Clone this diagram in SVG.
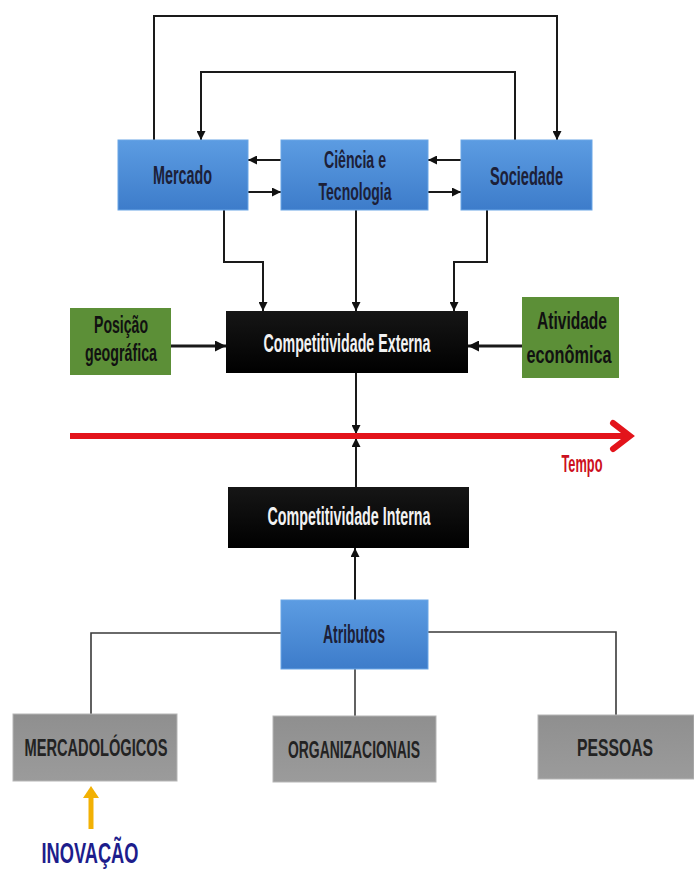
<svg xmlns="http://www.w3.org/2000/svg" width="694" height="875" viewBox="0 0 694 875">
  <defs>
    <linearGradient id="gBlue" x1="0" y1="0" x2="0" y2="1">
      <stop offset="0" stop-color="#5c9ce2"/>
      <stop offset="1" stop-color="#3d7cca"/>
    </linearGradient>
    <linearGradient id="gGray" x1="0" y1="0" x2="0" y2="1">
      <stop offset="0" stop-color="#8f8f8f"/>
      <stop offset="1" stop-color="#9b9b9b"/>
    </linearGradient>
    <linearGradient id="gBlack" x1="0" y1="0" x2="0" y2="1">
      <stop offset="0" stop-color="#161616"/>
      <stop offset="1" stop-color="#000000"/>
    </linearGradient>
    <marker id="ah" viewBox="0 0 10 10" refX="10" refY="5" markerWidth="9" markerHeight="9" markerUnits="userSpaceOnUse" orient="auto">
      <path d="M0,0 L10,5 L0,10 z" fill="#111"/>
    </marker>
    <marker id="ahBig" viewBox="0 0 10 10" refX="10" refY="5" markerWidth="11" markerHeight="11" markerUnits="userSpaceOnUse" orient="auto">
      <path d="M0,0 L10,5 L0,10 z" fill="#111"/>
    </marker>
  </defs>
  <style>
    .blue { fill: url(#gBlue); stroke: #6aa6e6; stroke-width: 1; }
    .green { fill: #5c8f37; }
    .black { fill: url(#gBlack); }
    .gray { fill: url(#gGray); stroke: #b5b5b5; stroke-width: 1; }
    .t { font-family: "Liberation Sans", Arial, sans-serif; font-weight: bold; text-anchor: middle; }
    .dark { fill: #1c2038; }
    .white { fill: #f2f2f2; }
    .graytxt { fill: #232323; }
    .c { fill: none; stroke: #1a1a1a; stroke-width: 2; }
    .cw { fill: none; stroke: #1a1a1a; stroke-width: 3; }
    .cg { fill: none; stroke: #3a3a3a; stroke-width: 1.6; }
  </style>
  <rect width="694" height="875" fill="#ffffff"/>

  <g id="connectors">
    <path class="c" d="M154,140 V16 H557 V140" marker-end="url(#ah)"/>
    <path class="c" d="M515,140 V72 H201 V140" marker-end="url(#ah)"/>
    <path class="c" d="M281,160 H248" marker-end="url(#ah)"/>
    <path class="c" d="M248,192 H281" marker-end="url(#ah)"/>
    <path class="c" d="M461,160 H428" marker-end="url(#ah)"/>
    <path class="c" d="M428,192 H461" marker-end="url(#ah)"/>
    <path class="c" d="M224,210 V262 H263 V311" marker-end="url(#ah)"/>
    <path class="c" d="M356,210 V311" marker-end="url(#ah)"/>
    <path class="c" d="M487,210 V262 H454 V311" marker-end="url(#ah)"/>
    <path class="cw" d="M171,346 H226" marker-end="url(#ahBig)"/>
    <path class="cw" d="M522,346 H468" marker-end="url(#ahBig)"/>
    <path class="c" d="M356,373 V434" marker-end="url(#ah)"/>
    <path class="c" d="M356,487 V438" marker-end="url(#ah)"/>
    <path class="c" d="M355,600 V548" marker-end="url(#ah)"/>
    <path class="cg" d="M281,633 H91 V714"/>
    <path class="cg" d="M428,632 H616 V715"/>
    <path class="cg" d="M355,669 V716"/>
  </g>

  <g id="tempo">
    <path d="M70,436 H628" stroke="#e3141b" stroke-width="6" fill="none"/>
    <path d="M613,423 L630,436 L613,449" stroke="#e3141b" stroke-width="6" fill="none" stroke-linejoin="miter" stroke-linecap="round"/>
    <text class="t" x="582" y="472" font-size="23" textLength="41" lengthAdjust="spacingAndGlyphs" fill="#cc1020">Tempo</text>
  </g>

  <g id="mercado">
    <rect class="blue" x="118" y="140" width="130" height="70"/>
    <text class="t dark" x="182.5" y="184" font-size="25" textLength="59" lengthAdjust="spacingAndGlyphs">Mercado</text>
  </g>
  <g id="ciencia">
    <rect class="blue" x="281" y="140" width="147" height="70"/>
    <text class="t dark" x="355" y="168" font-size="23" textLength="62" lengthAdjust="spacingAndGlyphs">Ciência e</text>
    <text class="t dark" x="355" y="200" font-size="23" textLength="73" lengthAdjust="spacingAndGlyphs">Tecnologia</text>
  </g>
  <g id="sociedade">
    <rect class="blue" x="461" y="140" width="131" height="70"/>
    <text class="t dark" x="526.5" y="185" font-size="25" textLength="73" lengthAdjust="spacingAndGlyphs">Sociedade</text>
  </g>

  <g id="posicao">
    <rect class="green" x="70" y="308" width="101" height="67"/>
    <text class="t" fill="#111" x="121" y="333" font-size="23" textLength="54" lengthAdjust="spacingAndGlyphs">Posição</text>
    <text class="t" fill="#111" x="121" y="361" font-size="23" textLength="72" lengthAdjust="spacingAndGlyphs">geográfica</text>
  </g>
  <g id="comp-externa">
    <rect class="black" x="226" y="311" width="242" height="62"/>
    <text class="t white" x="347" y="352" font-size="25" textLength="167" lengthAdjust="spacingAndGlyphs">Competitividade Externa</text>
  </g>
  <g id="atividade">
    <rect class="green" x="522" y="297" width="97" height="81"/>
    <text class="t" fill="#111" x="572" y="329" font-size="23" textLength="70" lengthAdjust="spacingAndGlyphs">Atividade</text>
    <text class="t" fill="#111" x="569" y="363" font-size="23" textLength="85" lengthAdjust="spacingAndGlyphs">econômica</text>
  </g>

  <g id="comp-interna">
    <rect class="black" x="228" y="487" width="241" height="61"/>
    <text class="t white" x="349" y="525" font-size="25" textLength="163" lengthAdjust="spacingAndGlyphs">Competitividade Interna</text>
  </g>

  <g id="atributos">
    <rect class="blue" x="281" y="600" width="147" height="69"/>
    <text class="t dark" x="354" y="643" font-size="25" textLength="62" lengthAdjust="spacingAndGlyphs">Atributos</text>
  </g>

  <g id="mercadologicos">
    <rect class="gray" x="13" y="714" width="164" height="67"/>
    <text class="t graytxt" x="96" y="756" font-size="23" textLength="143" lengthAdjust="spacingAndGlyphs">MERCADOLÓGICOS</text>
  </g>
  <g id="organizacionais">
    <rect class="gray" x="273" y="716" width="163" height="66"/>
    <text class="t graytxt" x="354" y="758" font-size="23" textLength="132" lengthAdjust="spacingAndGlyphs">ORGANIZACIONAIS</text>
  </g>
  <g id="pessoas">
    <rect class="gray" x="538" y="715" width="156" height="64"/>
    <text class="t graytxt" x="615" y="756" font-size="23" textLength="76" lengthAdjust="spacingAndGlyphs">PESSOAS</text>
  </g>

  <g id="inovacao">
    <path d="M91,829 V796" stroke="#f2b104" stroke-width="5" fill="none"/>
    <path d="M83,798 L91,786 L99,798 z" fill="#f2b104"/>
    <text class="t" x="90" y="863" font-size="29" textLength="97" lengthAdjust="spacingAndGlyphs" fill="#1d1d8c">INOVAÇÃO</text>
  </g>
</svg>
